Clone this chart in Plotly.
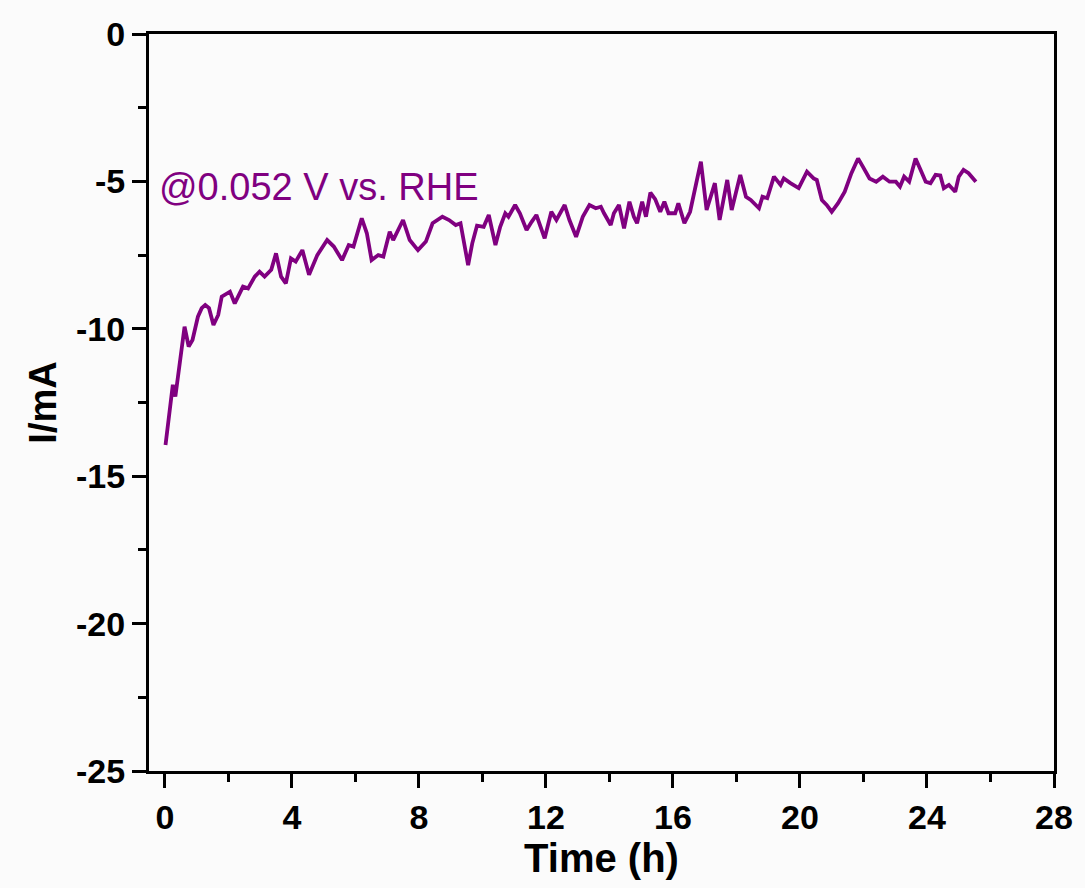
import plotly.graph_objects as go

time_h = [0.02, 0.18, 0.25, 0.33, 0.45, 0.54, 0.62, 0.75, 0.87, 1.04, 1.16, 1.27, 1.39, 1.53, 1.68, 1.79,
          2.05, 2.2, 2.46, 2.62, 2.83, 2.98, 3.14, 3.35, 3.5, 3.66, 3.81, 3.97, 4.12, 4.33, 4.49, 4.54,
          4.8, 5.11, 5.32, 5.58, 5.79, 5.94, 6.2, 6.36, 6.51, 6.72, 6.88, 7.08, 7.19, 7.5, 7.71, 7.97,
          8.22, 8.43, 8.74, 8.95, 9.16, 9.31, 9.55, 9.68, 9.83, 10.04, 10.2, 10.41, 10.56, 10.72, 10.82,
          11.03, 11.18, 11.39, 11.55, 11.7, 11.96, 12.17, 12.33, 12.59, 12.74, 12.95, 13.16, 13.37, 13.57,
          13.73, 13.83, 14.04, 14.14, 14.3, 14.46, 14.63, 14.77, 14.87, 15.03, 15.15, 15.29, 15.44, 15.6,
          15.73, 15.86, 16.07, 16.17, 16.36, 16.54, 16.7, 16.88, 17.06, 17.32, 17.47, 17.71, 17.85, 18.12,
          18.3, 18.45, 18.71, 18.82, 18.97, 19.18, 19.39, 19.49, 19.7, 19.96, 20.22, 20.43, 20.53, 20.69,
          20.84, 21.0, 21.2, 21.41, 21.62, 21.83, 21.98, 22.19, 22.4, 22.61, 22.82, 23.02, 23.15, 23.28,
          23.44, 23.64, 23.8, 23.96, 24.11, 24.27, 24.42, 24.53, 24.69, 24.89, 25.0, 25.15, 25.31, 25.54]
current_mA = [-13.94, -12.64, -11.9, -12.3, -11.4, -10.6, -9.93, -10.6, -10.38, -9.59, -9.3, -9.19, -9.3, -9.87, -9.53, -8.91,
              -8.74, -9.14, -8.57, -8.63, -8.23, -8.06, -8.23, -8.0, -7.44, -8.23, -8.46, -7.61, -7.72, -7.33, -7.89, -8.17,
              -7.5, -6.99, -7.21, -7.67, -7.16, -7.21, -6.25, -6.76, -7.67, -7.5, -7.55, -6.71, -6.99, -6.31, -6.99, -7.33,
              -7.04, -6.42, -6.2, -6.31, -6.48, -6.42, -7.84, -7.1, -6.5, -6.54, -6.14, -7.16, -6.54, -6.08, -6.2,
              -5.8, -6.08, -6.65, -6.37, -6.14, -6.93, -6.03, -6.31, -5.8, -6.31, -6.88, -6.2, -5.8, -5.91,
              -5.86, -6.08, -6.48, -6.08, -5.8, -6.59, -5.69, -6.2, -6.42, -5.69, -6.2, -5.38, -5.6, -6.03,
              -5.69, -6.08, -6.08, -5.74, -6.42, -6.03, -5.29, -4.33, -5.97, -5.06, -6.31, -4.95, -5.97, -4.78,
              -5.52, -5.63, -5.91, -5.52, -5.57, -4.84, -5.12, -4.9, -5.06, -5.23, -4.67, -4.9, -4.95, -5.63,
              -5.8, -6.03, -5.74, -5.35, -4.72, -4.22, -4.5, -4.9, -5.01, -4.84, -5.01, -5.01, -5.18, -4.84,
              -5.01, -4.22, -4.61, -5.01, -5.06, -4.78, -4.8, -5.23, -5.12, -5.35, -4.84, -4.61, -4.72, -5.01]

x_ticks = [0, 4, 8, 12, 16, 20, 24, 28]
y_ticks = [0, -5, -10, -15, -20, -25]
y_tick_text = ["0", "-5", "-10", "-15", "-20", "-25"]

font_family = "Arial, Liberation Sans, sans-serif"
purple = "#800080"

fig = go.Figure()
fig.add_trace(go.Scatter(x=time_h, y=current_mA, mode="lines",
                         line=dict(color=purple, width=3.8), showlegend=False))

fig.add_annotation(x=-0.25, y=-5.2, xref="x", yref="y", text="@0.052 V vs. RHE",
                   showarrow=False, xanchor="left", yanchor="middle",
                   font=dict(family=font_family, size=38, color=purple))

axis_common = dict(showline=True, linecolor="black", linewidth=3, mirror=True,
                   ticks="outside", ticklen=14, tickwidth=3, tickcolor="black",
                   showgrid=False, zeroline=False,
                   tickfont=dict(family=font_family, size=34, color="black", weight="bold"))

fig.update_xaxes(range=[-0.5, 28], tickvals=x_ticks, ticktext=[str(v) for v in x_ticks],
                 minor=dict(ticks="outside", dtick=2, tick0=0, ticklen=8, tickwidth=3, tickcolor="black"),
                 title=dict(text="<b>Time (h)</b>", font=dict(family=font_family, size=40, color="black"), standoff=0),
                 **axis_common)
fig.update_yaxes(range=[-25, 0], tickvals=y_ticks, ticktext=y_tick_text,
                 minor=dict(ticks="outside", dtick=2.5, tick0=0, ticklen=8, tickwidth=3, tickcolor="black"),
                 title=dict(text="<b>I/mA</b>", font=dict(family=font_family, size=38, color="black"), standoff=8),
                 **axis_common)

fig.update_layout(width=1085, height=888, margin=dict(l=149, r=26, t=34, b=117),
                  plot_bgcolor="#fbfbfb", paper_bgcolor="#fbfbfb")

fig.write_html("out.html")
